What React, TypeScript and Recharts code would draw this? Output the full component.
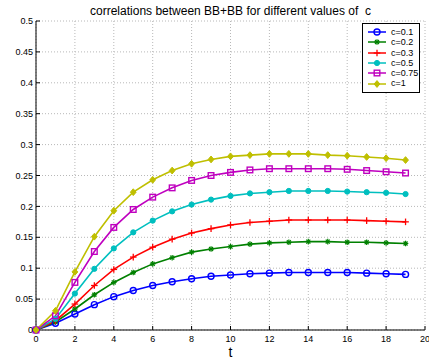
import React from "react";
import { LineChart, Line, XAxis, YAxis, CartesianGrid } from "recharts";

const times = [0, 1, 2, 3, 4, 5, 6, 7, 8, 9, 10, 11, 12, 13, 14, 15, 16, 17, 18, 19];

const c01 = [0, 0.011, 0.026, 0.041, 0.054, 0.064, 0.072, 0.078, 0.083, 0.087, 0.089, 0.091, 0.092, 0.093, 0.093, 0.093, 0.093, 0.092, 0.091, 0.09];
const c02 = [0, 0.013, 0.034, 0.057, 0.077, 0.093, 0.107, 0.117, 0.126, 0.131, 0.135, 0.139, 0.141, 0.142, 0.143, 0.143, 0.142, 0.142, 0.141, 0.14];
const c03 = [0, 0.015, 0.042, 0.072, 0.098, 0.118, 0.134, 0.147, 0.157, 0.164, 0.17, 0.174, 0.176, 0.178, 0.178, 0.178, 0.178, 0.177, 0.176, 0.175];
const c05 = [0, 0.018, 0.059, 0.099, 0.132, 0.158, 0.177, 0.192, 0.203, 0.211, 0.217, 0.221, 0.223, 0.225, 0.225, 0.225, 0.224, 0.223, 0.222, 0.22];
const c075 = [0, 0.023, 0.077, 0.127, 0.166, 0.195, 0.215, 0.23, 0.242, 0.25, 0.255, 0.259, 0.261, 0.261, 0.261, 0.261, 0.26, 0.258, 0.256, 0.254];
const c1 = [0, 0.031, 0.094, 0.151, 0.193, 0.223, 0.243, 0.258, 0.269, 0.276, 0.281, 0.283, 0.285, 0.285, 0.285, 0.283, 0.282, 0.28, 0.278, 0.275];

const xTicks = [0, 2, 4, 6, 8, 10, 12, 14, 16, 18, 20];
const yTicks = [0, 0.05, 0.1, 0.15, 0.2, 0.25, 0.3, 0.35, 0.4, 0.45, 0.5];

type Marker = "circle" | "star" | "plus" | "dot" | "square" | "diamond";

const series: { key: string; name: string; color: string; marker: Marker; values: number[] }[] = [
  { key: "c01", name: "c=0.1", color: "#0000ff", marker: "circle", values: c01 },
  { key: "c02", name: "c=0.2", color: "#008000", marker: "star", values: c02 },
  { key: "c03", name: "c=0.3", color: "#ff0000", marker: "plus", values: c03 },
  { key: "c05", name: "c=0.5", color: "#00bfbf", marker: "dot", values: c05 },
  { key: "c075", name: "c=0.75", color: "#bf00bf", marker: "square", values: c075 },
  { key: "c1", name: "c=1", color: "#bfbf00", marker: "diamond", values: c1 },
];

const data = times.map((t, i) => {
  const row: Record<string, number> = { t };
  series.forEach((s) => (row[s.key] = s.values[i]));
  return row;
});

const font = "'Liberation Sans', Arial, sans-serif";

function markerShape(m: Marker, x: number, y: number, color: string) {
  switch (m) {
    case "circle":
      return <circle cx={x} cy={y} r={3} fill="none" stroke={color} strokeWidth={1.4} />;
    case "star":
      return (
        <g stroke={color} strokeWidth={1.2}>
          <line x1={x - 2.8} y1={y} x2={x + 2.8} y2={y} />
          <line x1={x} y1={y - 2.8} x2={x} y2={y + 2.8} />
          <line x1={x - 2} y1={y - 2} x2={x + 2} y2={y + 2} />
          <line x1={x - 2} y1={y + 2} x2={x + 2} y2={y - 2} />
        </g>
      );
    case "plus":
      return (
        <g stroke={color} strokeWidth={1.3}>
          <line x1={x - 3.3} y1={y} x2={x + 3.3} y2={y} />
          <line x1={x} y1={y - 3.3} x2={x} y2={y + 3.3} />
        </g>
      );
    case "dot":
      return <circle cx={x} cy={y} r={2.6} fill={color} stroke={color} />;
    case "square":
      return <rect x={x - 2.8} y={y - 2.8} width={5.6} height={5.6} fill="none" stroke={color} strokeWidth={1.4} />;
    case "diamond":
      return (
        <polygon
          points={`${x},${y - 3.4} ${x + 2.9},${y} ${x},${y + 3.4} ${x - 2.9},${y}`}
          fill={color}
          stroke={color}
        />
      );
  }
}

const makeDot = (m: Marker, color: string) => (props: any) => (
  <g key={`${m}-${props.index}`}>{markerShape(m, props.cx, props.cy, color)}</g>
);

const LegendBox = () => (
  <div
    style={{
      position: "absolute",
      left: 362,
      top: 23,
      width: 58,
      boxSizing: "border-box",
      background: "#fff",
      border: "1px solid #000",
      padding: "3px 0 3px 4px",
      fontFamily: font,
      fontSize: 9,
      lineHeight: "10.3px",
    }}
  >
    {series.map((s) => (
      <div key={s.key} style={{ display: "flex", alignItems: "center" }}>
        <svg width={22} height={10} style={{ marginRight: 2 }}>
          <line x1={1} y1={5} x2={19} y2={5} stroke={s.color} strokeWidth={1.5} />
          {markerShape(s.marker, 10, 5, s.color)}
        </svg>
        <span>{s.name}</span>
      </div>
    ))}
  </div>
);

const tickStyle = { fontSize: 9, fill: "#000", fontFamily: font };

export default function App() {
  return (
    <div style={{ position: "absolute", left: 0, top: 0, width: 429, height: 360, background: "#fff" }}>
      <div
        style={{
          position: "absolute",
          top: 4,
          left: 36,
          width: 389,
          textAlign: "center",
          fontFamily: font,
          fontSize: 12,
          whiteSpace: "pre",
        }}
      >
        {"correlations between BB+BB for different values of  c"}
      </div>
      <LineChart width={429} height={360} data={data} margin={{ top: 21, right: 4, bottom: 0, left: 0 }}>
        <CartesianGrid stroke="#b8b8b8" strokeDasharray="1 2" horizontalValues={yTicks} verticalValues={xTicks} />
        <XAxis
          dataKey="t"
          type="number"
          domain={[0, 20]}
          ticks={xTicks}
          height={30}
          interval={0}
          tick={tickStyle}
          tickSize={-4}
          tickMargin={10}
          stroke="#000"
        />
        <XAxis
          xAxisId="top"
          orientation="top"
          dataKey="t"
          type="number"
          domain={[0, 20]}
          ticks={xTicks}
          height={0}
          tickSize={-4}
          tickFormatter={() => ""}
          stroke="#000"
        />
        <YAxis
          type="number"
          domain={[0, 0.5]}
          ticks={yTicks}
          width={36}
          interval={0}
          tick={tickStyle}
          tickSize={-4}
          tickMargin={7}
          tickFormatter={(v: number) => String(+v.toFixed(2))}
          stroke="#000"
        />
        <YAxis
          yAxisId="right"
          orientation="right"
          type="number"
          domain={[0, 0.5]}
          ticks={yTicks}
          width={0}
          tickSize={-4}
          tickFormatter={() => ""}
          stroke="#000"
        />
        {series.map((s) => (
          <Line
            key={s.key}
            type="linear"
            dataKey={s.key}
            name={s.name}
            stroke={s.color}
            strokeWidth={1.6}
            dot={makeDot(s.marker, s.color)}
            activeDot={false}
            isAnimationActive={false}
          />
        ))}
      </LineChart>
      <LegendBox />
      <div
        style={{
          position: "absolute",
          top: 345,
          left: 36,
          width: 389,
          textAlign: "center",
          fontFamily: font,
          fontSize: 14,
          lineHeight: "14px",
        }}
      >
        t
      </div>
    </div>
  );
}
